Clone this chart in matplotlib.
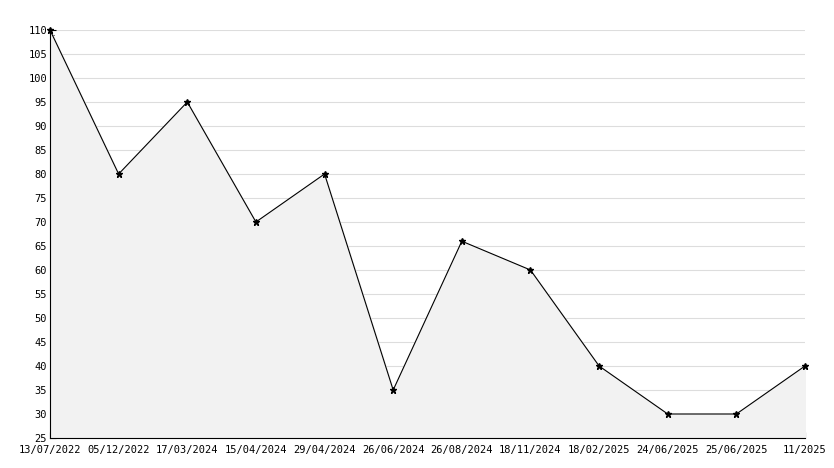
import matplotlib
matplotlib.use("Agg")
import matplotlib.pyplot as plt
from matplotlib.ticker import MultipleLocator

dates = ["13/07/2022", "05/12/2022", "17/03/2024", "15/04/2024", "29/04/2024",
         "26/06/2024", "26/08/2024", "18/11/2024", "18/02/2025", "24/06/2025",
         "25/06/2025", "11/2025"]
values = [110, 80, 95, 70, 80, 35, 66, 60, 40, 30, 30, 40]

fig = plt.figure(figsize=(8.34, 4.68), dpi=100)
ax = fig.add_axes([50 / 834, 30 / 468, 755 / 834, 408 / 468])
x = list(range(len(values)))

ax.fill_between(x, values, 25, color="#f2f2f2", zorder=1)
ax.plot(x, values, color="black", lw=0.8, marker="*", ms=5, zorder=3, clip_on=False)

ax.set_xlim(0, len(values) - 1)
ax.set_ylim(25, 110)
ax.yaxis.set_major_locator(MultipleLocator(5))
ax.yaxis.set_minor_locator(MultipleLocator(1))
ax.grid(axis="y", color="#dddddd", lw=0.8, zorder=0)
ax.set_axisbelow(True)
ax.set_xticks(x)
ax.set_xticklabels(dates)
for s in ["top", "right"]:
    ax.spines[s].set_visible(False)
ax.tick_params(labelsize=7.5, length=4, direction="in", pad=2)
ax.tick_params(axis="x", pad=5)
ax.tick_params(axis="y", which="minor", length=3, width=0.8, direction="in")
for t in ax.get_xticklabels() + ax.get_yticklabels():
    t.set_family("DejaVu Sans Mono")

fig.savefig("out.png", dpi=100)
